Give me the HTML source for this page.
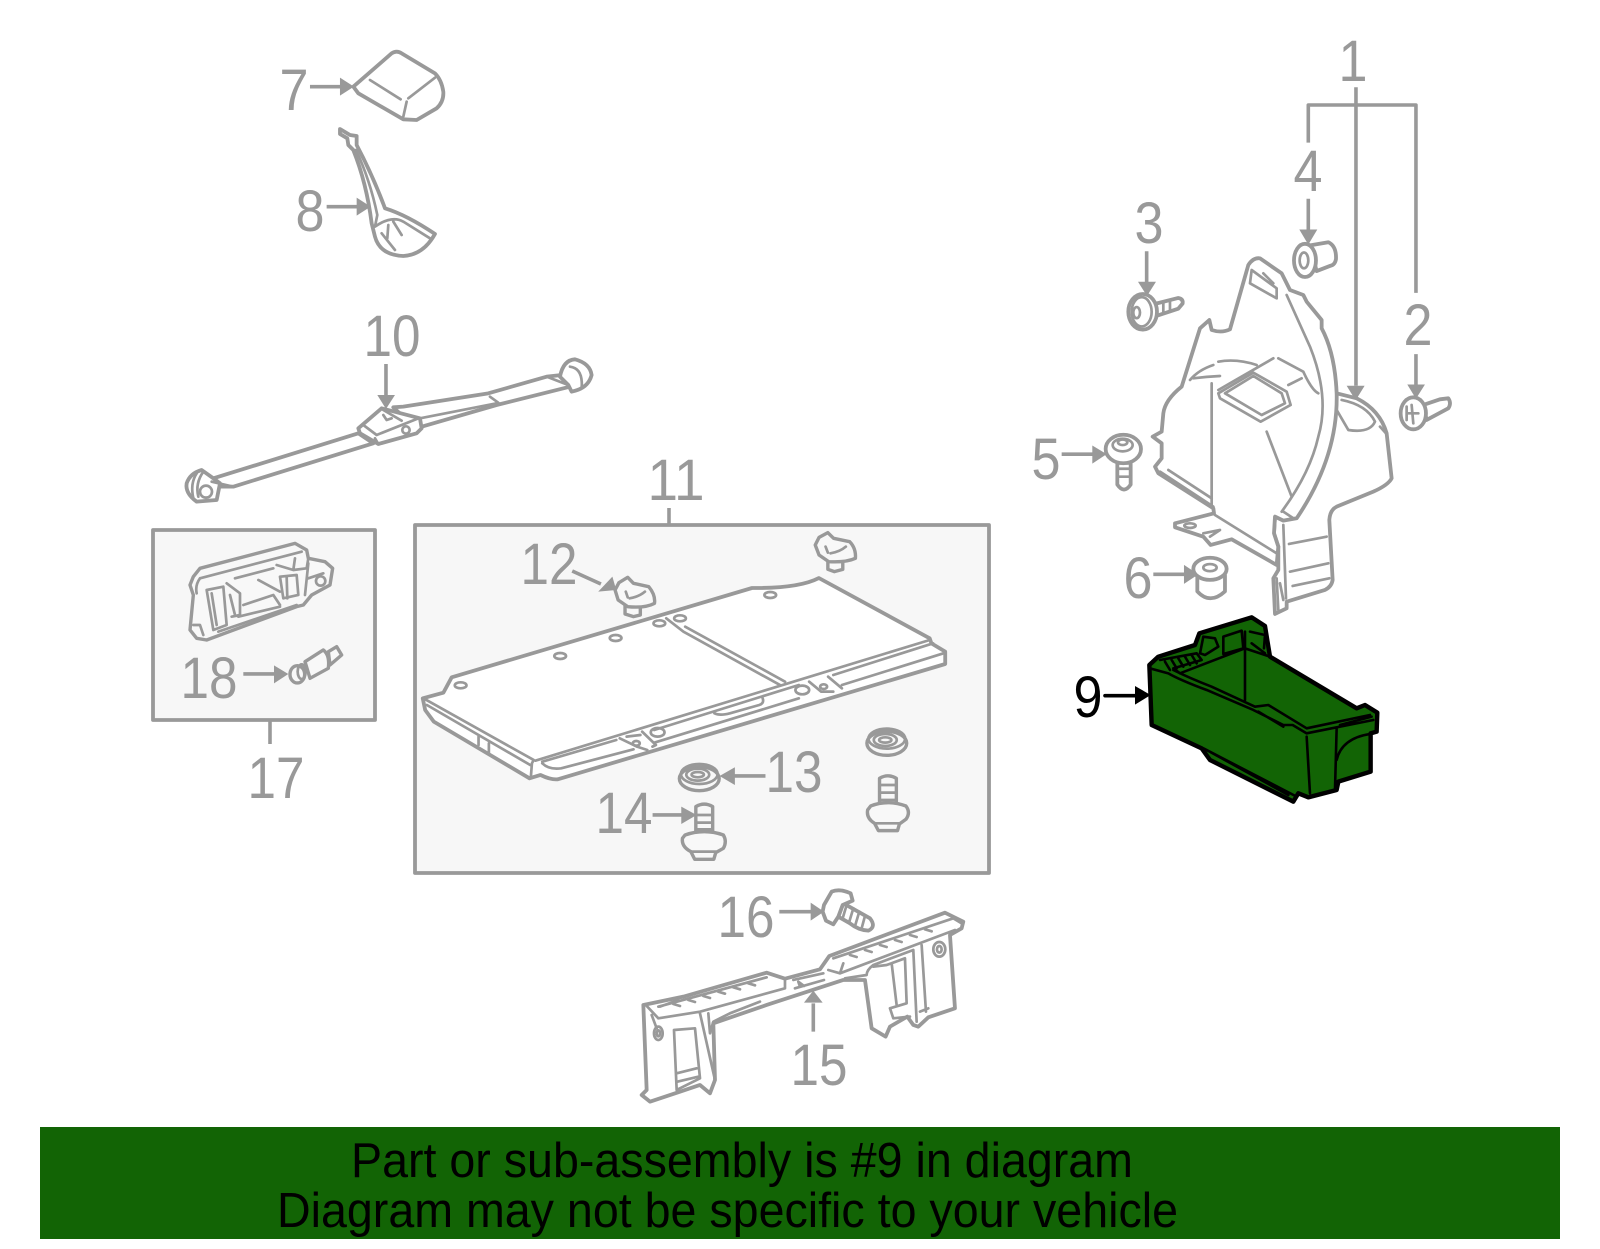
<!DOCTYPE html>
<html><head><meta charset="utf-8"><style>
html,body{margin:0;padding:0;background:#fff;width:1600px;height:1249px;overflow:hidden}
svg{display:block}
path,line,ellipse,rect,polygon,circle{vector-effect:non-scaling-stroke;stroke-linejoin:round;stroke-linecap:round}
.a{fill:#fff;stroke:#999;stroke-width:3.8}
.f{fill:#f8f8f8;stroke:#999;stroke-width:3.4}
.b{fill:none;stroke:#999;stroke-width:2.7}
.l{fill:none;stroke:#999;stroke-width:3.6;stroke-linecap:butt}
.h{fill:#999;stroke:none}
.k{fill:none;stroke:#000;stroke-width:2.6}
text{font-family:"Liberation Sans",sans-serif}
.t{font-size:58px;fill:#999;text-anchor:middle}
</style></head><body>
<svg width="1600" height="1249" viewBox="0 0 1600 1249" xmlns="http://www.w3.org/2000/svg">
<rect x="153" y="530" width="222" height="190" fill="#f7f7f7" stroke="#999" stroke-width="3.8"/>
<rect x="415" y="525" width="574" height="348" fill="#f7f7f7" stroke="#999" stroke-width="3.8"/>
<line class="l" x1="669" y1="508" x2="669" y2="525"/>
<line class="l" x1="270" y1="720" x2="270" y2="744"/>

<!-- Z1: arrows and small fasteners -->
<g transform="translate(1000 20) scale(.3333 .3954)">
<path class="l" d="M1068,170V925M925,310V215H1248V690M925,452V535M440,585V665M1248,845V925M185,1098H280M460,1402H555"/>
<polygon class="h" points="1040,925 1094,925 1067,962"/>
<polygon class="h" points="898,530 952,530 925,568"/>
<polygon class="h" points="414,662 468,662 441,698"/>
<polygon class="h" points="1222,922 1275,922 1248,958"/>
<polygon class="h" points="277,1076 277,1122 320,1098"/>
<polygon class="h" points="552,1378 552,1426 595,1402"/>
<!-- part 3 -->
<path class="a" d="M465,718L535,703Q550,705 548,717L535,730L470,748Z"/>
<path class="b" d="M490,712V742M510,708V738"/>
<ellipse class="a" cx="428" cy="738" rx="43" ry="45"/>
<ellipse class="b" cx="425" cy="738" rx="30" ry="37"/>
<ellipse class="b" cx="410" cy="740" rx="10" ry="14"/>
<!-- part 4 -->
<path class="a" d="M930,570L985,562Q1010,572 1008,605Q1005,620 990,622L950,635Z"/>
<ellipse class="a" cx="915" cy="608" rx="33" ry="42"/>
<ellipse class="b" cx="912" cy="608" rx="13" ry="20"/>
<!-- part 5 -->
<path class="a" d="M352,1120V1175Q372,1200 392,1175V1120Z"/>
<path class="b" d="M352,1135H392M352,1155H392"/>
<ellipse class="a" cx="370" cy="1085" rx="53" ry="36"/>
<ellipse class="b" cx="368" cy="1075" rx="30" ry="16"/>
<ellipse class="b" cx="368" cy="1068" rx="14" ry="7"/>
<!-- part 6 -->
<path class="a" d="M592,1405V1445Q630,1480 675,1445V1405Z"/>
<ellipse class="a" cx="630" cy="1388" rx="50" ry="28"/>
<ellipse class="b" cx="630" cy="1385" rx="20" ry="9"/>
</g>

<!-- main panel, part 1 -->
<g transform="translate(1140 250) scale(.3333)">
<path class="a" d="M590,430L650,445Q720,480 740,550L755,685Q745,705 700,725L590,770Q570,780 568,810L578,990Q575,1010 555,1020L440,1055L440,1075L405,1092L400,985L415,960L415,890L402,850L405,800L450,755Q550,640 550,470Z"/>
<path class="a" d="M125,410L180,235L208,210L215,240Q245,250 270,238L325,45Q340,22 360,25L425,70L450,120L490,135L500,155L545,210L545,235Q585,310 590,430Q595,620 470,805L430,812L405,800L402,850L415,890L410,945L275,868L212,885L190,860L105,832L105,820L222,790L220,775L55,670L45,650L65,625V580L38,560L65,545L70,490Q75,450 125,410Z"/>
<path class="b" d="M440,135L510,290Q570,440 535,560Q510,670 425,785M215,400V770M225,795L410,910M380,545L455,740M150,390Q175,360 220,345M160,385Q200,380 240,378M235,335Q290,325 350,345M235,420L400,325M415,325L490,365Q515,420 535,430M445,405L485,385"/>
<path class="b" d="M235,430L340,368L440,425L452,465L362,515L240,445ZM255,430L340,378L425,430L435,460L365,495Z"/>
<path class="b" d="M335,60L410,115V145L330,100ZM370,70L400,100M85,660L215,745M60,665L220,770M190,850L240,840L210,860"/>
<path class="b" d="M605,450Q680,465 705,515Q690,550 625,540L590,480M720,530L738,550M447,882L560,860M450,965L565,940M458,1008L568,985M430,825L438,1045M410,985L415,1080M420,1000L430,1050M430,785L460,805"/>
<ellipse class="b" cx="150" cy="827" rx="17" ry="7"/>
<!-- part 2 -->
<path class="a" d="M850,465L900,448L925,445Q935,460 925,475L860,510Z"/>
<ellipse class="a" cx="820" cy="490" rx="38" ry="48"/>
<path class="b" d="M800,470V510M800,490H835M815,465L820,520"/>
</g>

<!-- Z3: 7, 8, arrows -->
<g transform="translate(140 30) scale(.3333)">
<path class="a" d="M640,170L755,70Q770,60 785,70L885,130Q905,150 910,185Q912,215 890,235L830,270L790,268L655,190Z"/>
<path class="b" d="M690,150L782,208M885,143L805,205M800,215L790,260"/>
<path class="l" d="M510,170H605M560,530H655M738,1002V1105"/>
<polygon class="h" points="600,143 642,170 600,197"/>
<polygon class="h" points="650,503 692,530 650,557"/>
<polygon class="h" points="712,1095 765,1095 738,1137"/>
<path class="a" d="M600,297L630,315L650,318L650,345Q700,440 735,535Q800,555 885,612Q850,675 790,678Q720,675 705,620L695,580Q680,460 640,360L625,345L622,325L600,312Z"/>
<path class="b" d="M648,360Q690,450 712,555L705,590Q755,555 790,575L870,625M725,610L765,660M745,585L742,625M760,575L785,615"/>
</g>

<!-- part 10 strap -->
<g transform="translate(170 350) scale(.3333)">
<path class="a" d="M130,385L565,250L610,280L190,410L155,410L125,395Z"/>
<path class="a" d="M670,172L700,170L955,130L1130,80L1175,75L1200,110L980,165L755,230L700,200Z"/>
<path class="b" d="M750,205L980,160M960,140L985,158M1130,80L1195,105"/>
<path class="a" d="M565,235L635,175L750,205L755,235L740,250L625,282L570,250Z"/>
<path class="b" d="M580,225L620,255M640,180L695,212M620,255L745,205M615,265L625,282M640,195L650,210L665,205"/>
<circle class="b" cx="708" cy="240" r="11"/>
<path class="a" d="M1170,80Q1180,30 1215,28Q1260,40 1265,75Q1255,115 1205,125L1195,105Z"/>
<path class="b" d="M1200,50Q1240,55 1235,115"/>
<path class="a" d="M95,360L130,385L150,400L140,450L80,455Q45,430 50,400Q60,370 95,360Z"/>
<path class="b" d="M80,370Q60,400 70,445M100,365Q75,400 85,440M125,395L190,410"/>
<circle class="b" cx="108" cy="425" r="18"/>
</g>

<!-- part 11 panel -->
<g transform="translate(420 590) scale(.3444 .3333)">
<path class="a" d="M8,325L68,308L92,262L964,-6Q1100,-5 1158,-36L1480,145L1485,160L1525,185L1525,222L400,568Q380,570 350,555L318,565L40,395L15,360Z"/>
<path class="b" d="M10,325L330,510L325,520L322,560M20,345L320,525M170,440V465M200,460V490M335,512L1480,150M355,515L570,450M680,420L1100,285M1200,255L1490,160M355,520Q375,540 410,535L620,478M680,458L1100,325M1225,285L1520,190M855,370Q870,378 900,370L985,345Q1000,340 995,325M580,445L630,470L660,480M645,425L685,465L675,470M600,440L640,435M1130,275L1165,305L1200,305M1185,260L1225,295M715,85L765,125L1045,285M770,110L1060,275"/>
<ellipse class="b" cx="118" cy="286" rx="17" ry="9"/>
<ellipse class="b" cx="407" cy="198" rx="17" ry="9"/>
<ellipse class="b" cx="568" cy="144" rx="17" ry="9"/>
<ellipse class="b" cx="695" cy="100" rx="17" ry="9"/>
<ellipse class="b" cx="755" cy="85" rx="17" ry="9"/>
<ellipse class="b" cx="1017" cy="15" rx="17" ry="9"/>
<ellipse class="b" cx="690" cy="427" rx="20" ry="13"/>
<ellipse class="b" cx="1110" cy="300" rx="20" ry="13"/>
<ellipse class="b" cx="628" cy="460" rx="10" ry="7"/>
<ellipse class="b" cx="1172" cy="290" rx="10" ry="7"/>
</g>

<!-- Z4: fasteners -->
<g transform="translate(400 510) scale(.3827 .3333)">
<path class="l" d="M450,183L525,222M955,798H870M660,915H745"/>
<polygon class="h" points="555,200 565,240 518,245"/>
<polygon class="h" points="875,772 835,798 875,825"/>
<polygon class="h" points="735,890 775,915 735,942"/>
<path class="f" d="M588,285V312L610,320L628,315V285Z"/>
<path class="f" d="M595,202L610,220L650,230Q668,255 665,280Q640,295 595,290L570,270L562,240L572,218Z"/>
<path class="b" d="M600,265Q625,260 640,245M590,245L595,262"/>
<path class="f" d="M1118,150V178L1135,185L1157,178V150Z"/>
<path class="f" d="M1118,68L1133,85L1175,95Q1192,115 1190,145Q1165,158 1120,155L1095,135L1085,105L1095,82Z"/>
<path class="b" d="M1125,130Q1150,125 1165,110M1112,110L1118,128"/>
<ellipse class="f" cx="782" cy="806" rx="52" ry="36"/>
<ellipse class="b" cx="782" cy="792" rx="48" ry="30"/>
<ellipse class="b" cx="778" cy="794" rx="30" ry="18"/>
<ellipse class="b" cx="778" cy="794" rx="16" ry="8"/>
<ellipse class="f" cx="1272" cy="700" rx="52" ry="36"/>
<ellipse class="b" cx="1272" cy="686" rx="48" ry="30"/>
<ellipse class="b" cx="1268" cy="690" rx="30" ry="18"/>
<ellipse class="b" cx="1268" cy="690" rx="16" ry="8"/>
<path class="f" d="M773,890Q795,875 817,890V975H773Z"/>
<path class="b" d="M773,915H817M773,938H817M773,958H817"/>
<path class="f" d="M745,975Q795,955 845,975Q855,995 845,1015L825,1028L820,1048H770L760,1025Q735,1010 738,985Z"/>
<path class="b" d="M760,1025H825"/>
<path class="f" d="M1253,805Q1275,790 1297,805V890H1253Z"/>
<path class="b" d="M1253,825H1297M1253,848H1297M1253,870H1297"/>
<path class="f" d="M1230,888Q1275,868 1322,888Q1335,908 1322,928L1305,942L1300,962H1250L1240,940Q1218,925 1222,900Z"/>
<path class="b" d="M1240,940H1305"/>
</g>

<!-- part 17 latch -->
<g transform="translate(180 535) scale(.3333)">
<path class="f" d="M40,125L60,100L345,25L380,45L385,70L435,80L458,100L450,150L395,180L370,210L350,215L80,315L50,310L30,285L40,180L30,150Z"/>
<path class="b" d="M60,130L365,50M60,130Q45,150 50,175M80,165L130,155L140,270L100,285ZM95,175L110,270M140,145L180,175V240L155,245M150,180L165,240M165,130L280,100M190,210L280,180L300,210M175,245L300,215M115,290L350,210M235,135L300,170M290,90L340,105L380,100L385,70M345,70L340,105M300,125L350,120L355,180L310,190ZM320,125L322,190M385,130L430,115M385,85L375,180M40,270L60,270L70,300"/>
<circle class="b" cx="422" cy="138" r="14"/>
<!-- part 18 -->
<path class="f" d="M445,350L470,335L485,360L450,390Z"/>
<path class="f" d="M375,380L430,345Q450,360 445,400L390,430Z"/>
<ellipse class="f" cx="352" cy="418" rx="22" ry="26"/>
<ellipse class="b" cx="365" cy="410" rx="12" ry="22"/>
</g>
<g transform="translate(140 520) scale(.3333)">
<path class="l" d="M310,462H405"/>
<polygon class="h" points="402,436 445,462 402,490"/>
</g>

<!-- Z6: part 15, 16 -->
<g transform="translate(620 880) scale(.3333)">
<path class="l" d="M478,95H575M580,455V370"/>
<polygon class="h" points="572,68 612,95 572,122"/>
<polygon class="h" points="552,368 608,368 580,332"/>
<path class="a" d="M70,375L190,350L440,278L495,296L600,268L628,228L975,98L1030,125L1025,145L990,165L1005,385L925,412L895,440L880,435L862,410L810,440L797,470L755,445L735,300L670,300L440,375L280,430L285,600L270,640L240,615L180,635L90,665L65,645L80,630Z"/>
<path class="b" d="M80,378L115,415L240,395L495,325L495,300M115,380L440,292M120,380L175,360M640,235L1000,115L1025,130M625,270L660,280L1005,150M660,280L670,250M525,325L612,300M520,300L610,280M540,320L535,305L552,318M675,295L740,285Q740,270 760,255L880,210M880,210L890,425M905,195L918,395M900,395L925,385M760,260L800,255L855,235L860,370L810,385L820,415L870,410M815,250L830,375M162,450L225,445L240,595L170,630ZM170,580L230,565M172,605L235,590M240,400L285,600M265,400L270,460L280,425L330,400L420,365M95,405L110,445"/>
<path class="b" d="M160,372l20,6M205,360l20,6M250,348l20,6M295,335l20,6M340,322l20,6M385,310l20,6M690,225l20,6M735,210l20,6M780,195l20,6M825,180l20,6M870,165l20,6M915,148l20,6"/>
<ellipse class="b" cx="115" cy="460" rx="13" ry="20"/>
<ellipse class="b" cx="115" cy="460" rx="5" ry="9"/>
<ellipse class="b" cx="958" cy="208" rx="18" ry="22"/>
<ellipse class="b" cx="958" cy="208" rx="7" ry="10"/>
<path class="a" d="M670,70L750,115Q770,140 745,152Q715,150 690,130L655,110Z"/>
<path class="b" d="M680,75L668,115M700,85L688,125M718,95L706,135M735,108L725,145"/>
<path class="a" d="M635,35Q660,25 692,40L698,62L668,75L655,110L640,133L618,122L608,95L612,75Z"/>
</g>

<!-- Part 9 -->
<g transform="translate(1060 600) scale(.3333)">
<path d="M135,287H228" fill="none" stroke="#000" stroke-width="3.6"/>
<polygon points="225,258 272,285 225,314" fill="#000"/>
</g>
<g transform="translate(1140 610) scale(.3333)">
<path d="M28,165L55,140L165,105L178,70L335,22L375,48L390,140L650,295L675,285L712,308L710,365L692,370V485L595,515L590,540L505,562L475,550L460,575L210,450L185,415L35,345Z" fill="#126405" stroke="#000" stroke-width="4.4"/>
<path class="k" d="M60,150L170,130L185,150L100,175L120,190L315,115L390,140M315,65V270M30,175L85,190Q120,210 200,240L340,300L430,345L458,345L500,370L700,330M100,180Q150,205 215,230L345,290L385,285L500,355L690,315M355,305L430,350M500,380L510,550M590,355L585,540M600,345L695,320M590,450Q605,385 690,372M190,415L470,560M200,420L445,555M75,155L90,180M95,150L110,175M115,145L130,170M135,140L150,165M155,135L170,160M250,80L305,62L310,115L250,132ZM190,80L180,130L195,135L235,110L225,85L190,80M330,65L375,75L372,115M335,100L375,130"/>
</g>

<!-- labels -->
<text class="t" x="1353" y="81" textLength="29" lengthAdjust="spacingAndGlyphs">1</text>
<text class="t" x="1418" y="345" textLength="29" lengthAdjust="spacingAndGlyphs">2</text>
<text class="t" x="1149" y="243" textLength="29" lengthAdjust="spacingAndGlyphs">3</text>
<text class="t" x="1308" y="191" textLength="29" lengthAdjust="spacingAndGlyphs">4</text>
<text class="t" x="1046" y="479" textLength="29" lengthAdjust="spacingAndGlyphs">5</text>
<text class="t" x="1138" y="598" textLength="29" lengthAdjust="spacingAndGlyphs">6</text>
<text class="t" x="294" y="110" textLength="29" lengthAdjust="spacingAndGlyphs">7</text>
<text class="t" x="310" y="231" textLength="29" lengthAdjust="spacingAndGlyphs">8</text>
<text class="t" x="1088" y="717" textLength="29" lengthAdjust="spacingAndGlyphs" style="fill:#000">9</text>
<text class="t" x="392" y="356" textLength="57" lengthAdjust="spacingAndGlyphs">10</text>
<text class="t" x="676" y="500" textLength="57" lengthAdjust="spacingAndGlyphs">11</text>
<text class="t" x="549" y="584" textLength="57" lengthAdjust="spacingAndGlyphs">12</text>
<text class="t" x="794" y="792" textLength="57" lengthAdjust="spacingAndGlyphs">13</text>
<text class="t" x="624" y="833" textLength="57" lengthAdjust="spacingAndGlyphs">14</text>
<text class="t" x="819" y="1085" textLength="57" lengthAdjust="spacingAndGlyphs">15</text>
<text class="t" x="746" y="937" textLength="57" lengthAdjust="spacingAndGlyphs">16</text>
<text class="t" x="276" y="798" textLength="57" lengthAdjust="spacingAndGlyphs">17</text>
<text class="t" x="209" y="698" textLength="57" lengthAdjust="spacingAndGlyphs">18</text>

<rect x="40" y="1127" width="1520" height="112" fill="#126405"/>
<text x="351" y="1177" font-size="49" fill="#000" textLength="782" lengthAdjust="spacingAndGlyphs">Part or sub-assembly is #9 in diagram</text>
<text x="277" y="1227" font-size="49" fill="#000" textLength="901" lengthAdjust="spacingAndGlyphs">Diagram may not be specific to your vehicle</text>
</svg>
</body></html>
